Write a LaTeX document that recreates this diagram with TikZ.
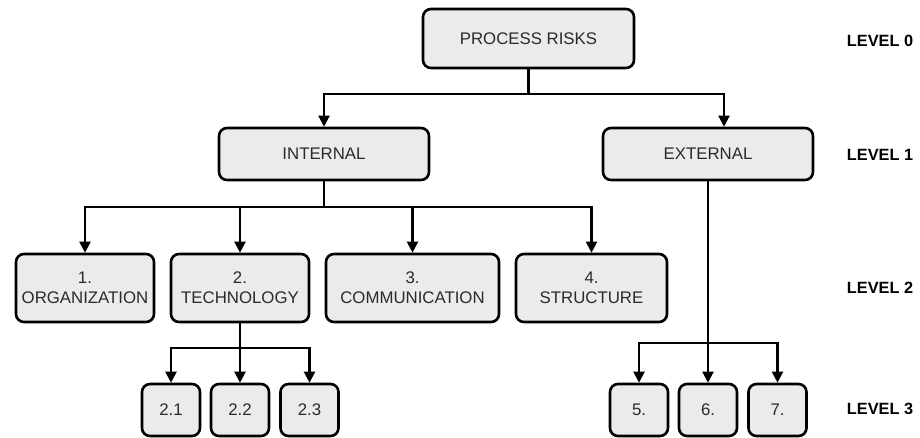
\documentclass[tikz,border=0pt]{standalone}
\usepackage{fontspec}
\setmainfont{Liberation Sans}
\usepackage{tikz}
\usetikzlibrary{arrows.meta}
\definecolor{boxfill}{HTML}{EBEBEB}
\definecolor{boxtext}{HTML}{2A2A2A}

\begin{document}
\begin{tikzpicture}[x=1pt, y=-1pt,
		box/.style={draw, line width=2.6pt, rounded corners=8pt, fill=boxfill, text=boxtext,
			align=center, inner sep=0pt, font=\fontsize{16.8}{20}\selectfont},
		arr/.style={line width=2.1pt, -{Triangle[length=11pt,width=11pt]}},
		lvl/.style={font=\fontsize{16.3}{20}\selectfont\bfseries}]
			\useasboundingbox (0,0) rectangle (920,437);
			% level 0 and 1
			\node[box, minimum width=211pt, minimum height=59pt] (risks) at (528.5,38.5) {PROCESS RISKS};
			\node[box, minimum width=210pt, minimum height=52pt] (internal) at (324,154) {INTERNAL};
			\node[box, minimum width=210pt, minimum height=52pt] (external) at (708,154) {EXTERNAL};
			% level 2
			\node[box, minimum width=138pt, minimum height=68pt] (org) at (85,288) {1.\\ORGANIZATION};
			\node[box, minimum width=138pt, minimum height=68pt] (tech) at (240,288) {2.\\TECHNOLOGY};
			\node[box, minimum width=173pt, minimum height=68pt] (comm) at (412.5,288) {3.\\COMMUNICATION};
			\node[box, minimum width=151pt, minimum height=68pt] (struct) at (591.5,288) {4.\\STRUCTURE};
			% level 3
			\node[box, minimum width=58pt, minimum height=52pt] (t1) at (171,410) {2.1};
			\node[box, minimum width=58pt, minimum height=52pt] (t2) at (240,410) {2.2};
			\node[box, minimum width=58pt, minimum height=52pt] (t3) at (309.5,410) {2.3};
			\node[box, minimum width=58pt, minimum height=52pt] (e5) at (639,410) {5.};
			\node[box, minimum width=58pt, minimum height=52pt] (e6) at (708,410) {6.};
			\node[box, minimum width=58pt, minimum height=52pt] (e7) at (777.5,410) {7.};
			% connectors
			\draw[arr] (risks.south) -- ++(0,25) -| (internal);
			\draw[arr] (risks.south) -- ++(0,25) -| ([xshift=16pt]external.north);
			\foreach \n in {org,tech,comm,struct}
				\draw[arr] (internal.south) -- ++(0,26) -| (\n);
			\foreach \n in {t1,t2,t3}
				\draw[arr] (tech.south) -- ++(0,25) -| (\n);
			\foreach \n in {e5,e6,e7}
				\draw[arr] (external.south) -- ++(0,162) -| (\n);
			% level labels
			\node[lvl] (lvl0) at (880,41) {LEVEL 0};
			\node[lvl] (lvl1) at (880,155) {LEVEL 1};
			\node[lvl] (lvl2) at (880,288) {LEVEL 2};
			\node[lvl] (lvl3) at (880,409) {LEVEL 3};
		\end{tikzpicture}
\end{document}
